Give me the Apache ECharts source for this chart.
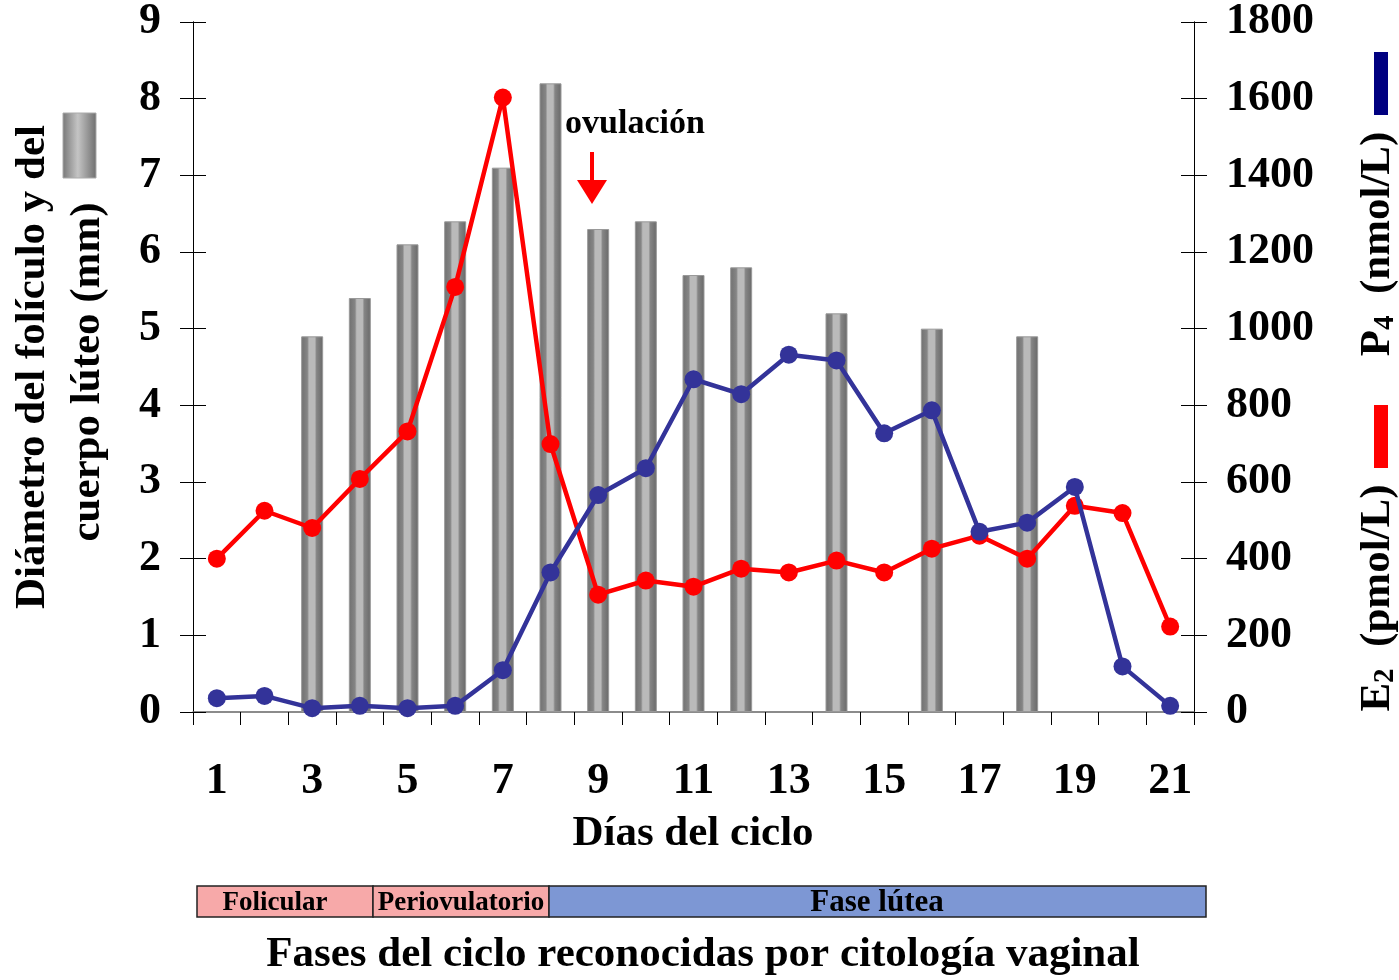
<!DOCTYPE html>
<html><head><meta charset="utf-8">
<script src="https://cdn.jsdelivr.net/npm/echarts@6/dist/echarts.min.js"></script>
<style>html,body{margin:0;padding:0;background:#fff}#c{width:1399px;height:980px}</style>
</head><body><div id="c"></div>
<script>
const days = ['1','2','3','4','5','6','7','8','9','10','11','12','13','14','15','16','17','18','19','20','21'];
const diameter = [null,null,4.9,5.4,6.1,6.4,7.1,8.2,6.3,6.4,5.7,5.8,null,5.2,null,5.0,null,4.9,null,null,null];
const e2 = [400,525,480,608,732,1109,1603,699,306,343,327,374,364,395,364,426,460,400,538,519,223];
const p4 = [36,42,10,16,10,16,109,364,566,636,868,829,932,917,727,787,470,494,587,119,16];
const leftTicks = [0,9,1];
const rightTicks = [0,1800,200];
const phases = [
  {name:'Folicular', x0:197, x1:373, tx:275, fs:27, color:'#f7a9a9'},
  {name:'Periovulatorio', x0:373, x1:549, tx:461, fs:27, color:'#f7a9a9'},
  {name:'Fase lútea', x0:549, x1:1206, tx:877, fs:31, color:'#7d97d4'}
];
const FF = '"Liberation Serif","DejaVu Serif",serif';
const lab = {color:'#000', fontFamily:FF, fontWeight:'bold', fontSize:44};
const chart = echarts.init(document.getElementById('c'));
const barGrad = new echarts.graphic.LinearGradient(0,0,1,0,[
  {offset:0,color:'#707070'},{offset:0.28,color:'#858585'},{offset:0.36,color:'#bababa'},
  {offset:0.62,color:'#bababa'},{offset:0.7,color:'#858585'},{offset:1,color:'#686868'}]);
function yAx(pos, rng, inner, showLabel){
  return {type:'value', position:pos, min:rng[0], max:rng[1], interval:rng[2],
    axisLine:{show:true, lineStyle:{color:'#000', width:1}},
    axisTick:{show:true, inside:inner, length:13, lineStyle:{color:'#000', width:1}},
    splitLine:{show:false},
    axisLabel:Object.assign({show:showLabel, margin:32, formatter:v=>String(v)}, lab)};
}
const phaseGraphics = [];
phases.forEach(p=>{
  phaseGraphics.push({type:'rect', shape:{x:p.x0, y:886, width:p.x1-p.x0, height:31},
    style:{fill:p.color, stroke:'#222', lineWidth:1.5}});
  phaseGraphics.push({type:'text', x:p.tx, y:903,
    style:{text:p.name, fill:'#000', font:'bold '+p.fs+'px '+FF, textAlign:'center', textVerticalAlign:'middle'}});
});
const sub = (t)=>({text:t, fill:'#000', textAlign:'center', textVerticalAlign:'middle',
  rich:{b:{font:'bold 43px '+FF, fill:'#000'}, s:{font:'bold 29px '+FF, fill:'#000', verticalAlign:'bottom', padding:[16,0,0,0]}}});
chart.setOption({
  animation:false,
  grid:{left:193, right:205, top:19, bottom:268},
  xAxis:{type:'category', data:days, boundaryGap:true,
    axisLine:{show:true, lineStyle:{color:'#666', width:1.5}},
    axisTick:{show:true, interval:0, length:13, lineStyle:{color:'#000'}},
    axisLabel:Object.assign({interval:1, margin:48}, lab)},
  yAxis:[yAx('left', leftTicks, false, true), yAx('right', rightTicks, false, true),
         yAx('left', leftTicks, true, false), yAx('right', rightTicks, true, false)],
  series:[
    {type:'bar', yAxisIndex:0, data:diameter, barWidth:22,
      itemStyle:{color:barGrad, borderColor:'#999', borderWidth:1}, z:1},
    {type:'line', yAxisIndex:1, data:e2, symbol:'circle', symbolSize:18,
      lineStyle:{color:'#ff0000', width:4.5}, itemStyle:{color:'#ff0000'}, z:3},
    {type:'line', yAxisIndex:1, data:p4, symbol:'circle', symbolSize:18,
      lineStyle:{color:'#333399', width:4.5}, itemStyle:{color:'#333399'}, z:4}
  ],
  graphic:[
    {type:'text', x:693, y:834, style:{text:'Días del ciclo', fill:'#000', font:'bold 43px '+FF, textAlign:'center', textVerticalAlign:'middle'}},
    {type:'text', x:703, y:955, style:{text:'Fases del ciclo reconocidas por citología vaginal', fill:'#000', font:'bold 43px '+FF, textAlign:'center', textVerticalAlign:'middle'}},
    {type:'text', x:635, y:124, style:{text:'ovulación', fill:'#000', font:'bold 34px '+FF, textAlign:'center', textVerticalAlign:'middle'}},
    {type:'rect', shape:{x:590, y:152, width:4, height:30}, style:{fill:'#ff0000'}},
    {type:'polygon', shape:{points:[[577,180],[607,180],[592,204]]}, style:{fill:'#ff0000'}},
    {type:'text', x:33, y:367, rotation:Math.PI/2, style:{text:'Diámetro del folículo y del', fill:'#000', font:'bold 43px '+FF, textAlign:'center', textVerticalAlign:'middle'}},
    {type:'text', x:88, y:372, rotation:Math.PI/2, style:{text:'cuerpo lúteo (mm)', fill:'#000', font:'bold 43px '+FF, textAlign:'center', textVerticalAlign:'middle'}},
    {type:'rect', shape:{x:63, y:113, width:33, height:65},
      style:{fill:new echarts.graphic.LinearGradient(0,0,1,0,[{offset:0,color:'#777'},{offset:0.45,color:'#c4c4c4'},{offset:1,color:'#6e6e6e'}]), stroke:'#aaa', lineWidth:1}},
    {type:'text', x:1378, y:598, rotation:Math.PI/2, style:sub('{b|E}{s|2}{b|  (pmol/L)}')},
    {type:'rect', shape:{x:1374, y:405, width:14, height:63}, style:{fill:'#ff0000'}},
    {type:'text', x:1378, y:244, rotation:Math.PI/2, style:sub('{b|P}{s|4}{b|  (nmol/L)}')},
    {type:'rect', shape:{x:1374, y:52, width:14, height:63}, style:{fill:'#000080'}}
  ].concat(phaseGraphics)
});
</script></body></html>
